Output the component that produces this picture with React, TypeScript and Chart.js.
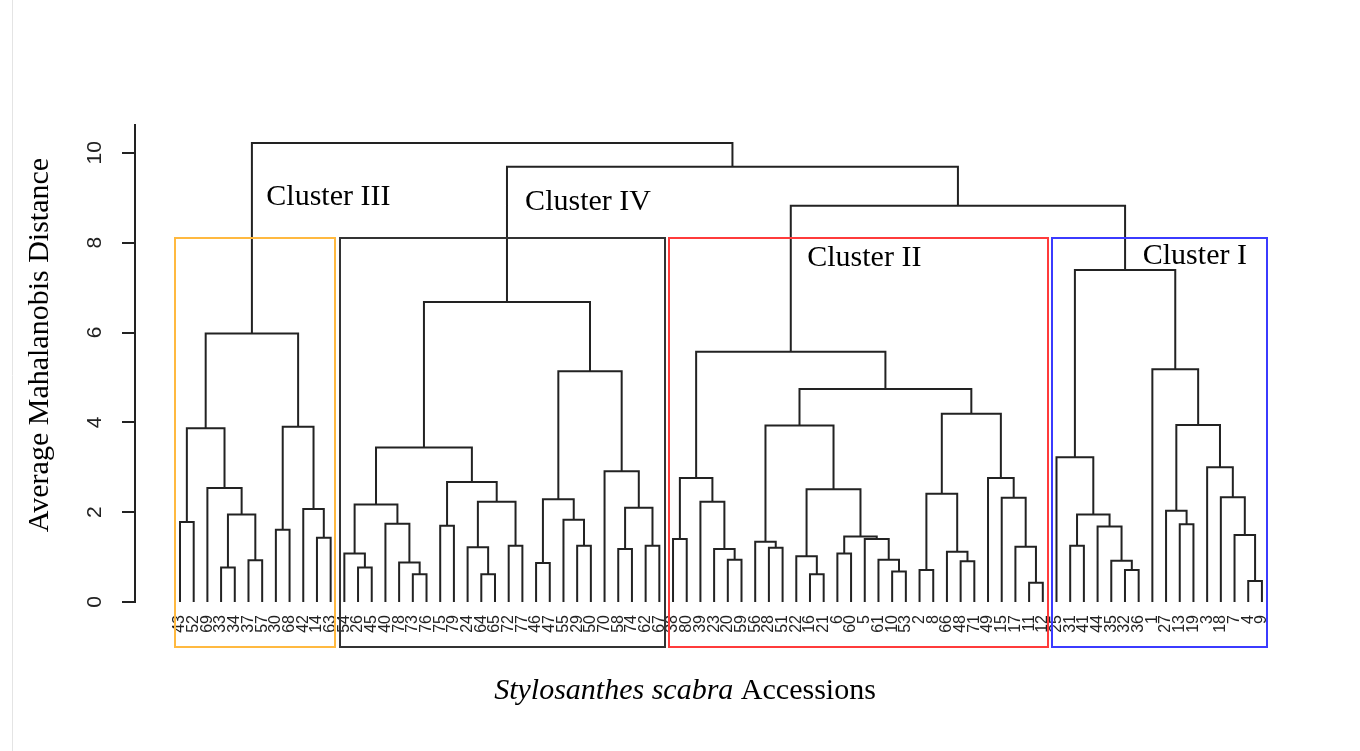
import React, { useEffect, useRef } from "react";
import { Chart, registerables } from "chart.js";

Chart.register(...registerables);

// Leaf order of the dendrogram (accession numbers, left to right)
const leafLabels: string[] = [
  "43", "52", "69", "33", "34", "37", "57", "30", "68", "42", "14", "63",
  "54", "26", "45", "40", "78", "73", "76", "75", "79", "24", "64", "65", "72", "77",
  "46", "47", "55", "29", "50", "70", "58", "74", "62", "67",
  "38", "80", "39", "23", "20", "59", "56", "28", "51", "22", "16", "21", "6", "60",
  "5", "61", "10", "53", "2", "8", "66", "48", "71", "49", "15", "17", "11", "12",
  "25", "31", "41", "44", "35", "32", "36", "1", "27", "13", "19", "3", "18", "7", "4", "9",
];

// hclust-style merge table: negative = leaf accession number, positive = earlier merge (1-based)
const mergeLeft: number[] = [
  -43, -33, -37, 2, -69, 1, -30, -14, -42, 7, 6,
  -26, -54, -73, -78, -40, 13, -75, -64, -24, -72, 20, 18, 17, -46, -29, -55, 25, -58, -62, 29, -70, 28, 24,
  -38, -20, -23, -39, 35, -28, -56, -16, -22, -6, -10, -61, -5, 44, 43, 41, -2, -48, -66, 51, -11, -17, -15, -49, 54, 50, 39,
  -31, -32, -35, -44, 62, -25, -13, -27, -4, -7, -18, -3, 69, -1, 67,
  61, 34, 11,
];
const mergeRight: number[] = [
  -52, -34, -57, 3, 4, 5, -68, -63, 8, 9, 10,
  -45, 12, -76, 14, 15, 16, -79, -65, 19, -77, 21, 22, 23, -47, -50, 26, 27, -74, -67, 30, 31, 32, 33,
  -80, -59, 36, 37, 38, -51, 40, -21, 42, -60, -53, 45, 46, 47, 48, 49, -8, -71, 52, 53, -12, 55, 56, 57, 58, 59, 60,
  -41, -36, 63, 64, 65, 66, -19, 68, -9, 70, 71, 72, 73, 74, 75,
  76, 77, 78,
];
const mergeHeight: number[] = [
  1.78, 0.77, 0.93, 1.95, 2.54, 3.87, 1.61, 1.43, 2.07, 3.9, 5.98,
  0.77, 1.08, 0.62, 0.88, 1.74, 2.17, 1.7, 0.62, 1.22, 1.25, 2.23, 2.67, 3.44, 0.87, 1.25, 1.83, 2.29, 1.18, 1.25, 2.1, 2.91, 5.14, 6.68,
  1.4, 0.94, 1.18, 2.23, 2.76, 1.21, 1.34, 0.62, 1.02, 1.08, 0.68, 0.94, 1.4, 1.46, 2.51, 3.93, 0.71, 0.91, 1.12, 2.41, 0.43, 1.23, 2.32, 2.76, 4.19, 4.74, 5.57,
  1.25, 0.71, 0.92, 1.68, 1.95, 3.22, 1.73, 2.03, 0.47, 1.49, 2.33, 3.0, 3.94, 5.18, 7.39,
  8.82, 9.69, 10.22,
];

const yTickValues: number[] = [0, 2, 4, 6, 8, 10];

const clusterNames: string[] = ["Cluster III", "Cluster IV", "Cluster II", "Cluster I"];
const clusterFirstLeaf: string[] = ["43", "54", "38", "25"];
const clusterLastLeaf: string[] = ["63", "67", "12", "9"];

const yAxisTitle = "Average Mahalanobis Distance";
const xAxisTitleItalic = "Stylosanthes scabra";
const xAxisTitleRegular = " Accessions";

// styling / placement (not data)
const boxColors = ["#FFB940", "#333333", "#FF3B3B", "#3B3BFF"];
const boxTopValue = 8.11;
const boxBottomValue = -1.0;
const boxPadLeft = 0.33;
const boxPadRight = 0.37;
const clusterLabelAnchors = [
  { x: 6.3, y: 8.84 },
  { x: 25.2, y: 8.72 },
  { x: 45.8, y: 7.47 },
  { x: 70.3, y: 7.52 },
];

function buildDendrogramDatasets() {
  const leafIndex = new Map<string, number>();
  leafLabels.forEach((l, i) => leafIndex.set(l, i));
  const nodeX: number[] = [];
  const nodeH: number[] = [];
  const child = (c: number) => {
    if (c < 0) return { x: leafIndex.get(String(-c)) as number, h: 0 };
    return { x: nodeX[c - 1], h: nodeH[c - 1] };
  };
  const datasets: any[] = [];
  for (let k = 0; k < mergeHeight.length; k++) {
    const a = child(mergeLeft[k]);
    const b = child(mergeRight[k]);
    const h = mergeHeight[k];
    nodeX[k] = (a.x + b.x) / 2;
    nodeH[k] = h;
    const left = a.x <= b.x ? a : b;
    const right = a.x <= b.x ? b : a;
    datasets.push({
      data: [
        { x: left.x, y: left.h },
        { x: left.x, y: h },
        { x: right.x, y: h },
        { x: right.x, y: right.h },
      ],
      borderColor: "#222222",
      borderWidth: 2,
      pointRadius: 0,
      fill: false,
      tension: 0,
    });
  }
  return datasets;
}

const overlayPlugin = {
  id: "overlay",
  afterDraw(chart: any) {
    const { ctx } = chart;
    const xs = chart.scales.x;
    const ys = chart.scales.y;
    ctx.save();

    // faint page edge
    ctx.strokeStyle = "#e4e4e4";
    ctx.lineWidth = 1;
    ctx.beginPath();
    ctx.moveTo(12.5, 0);
    ctx.lineTo(12.5, 751);
    ctx.stroke();

    // cluster boxes
    const leafIdx = (l: string) => leafLabels.indexOf(l);
    ctx.lineWidth = 2;
    for (let i = 0; i < clusterNames.length; i++) {
      const x0 = xs.getPixelForValue(leafIdx(clusterFirstLeaf[i]) - boxPadLeft);
      const x1 = xs.getPixelForValue(leafIdx(clusterLastLeaf[i]) + boxPadRight);
      const y0 = ys.getPixelForValue(boxTopValue);
      const y1 = ys.getPixelForValue(boxBottomValue);
      ctx.strokeStyle = boxColors[i];
      ctx.strokeRect(Math.round(x0), Math.round(y0), Math.round(x1 - x0), Math.round(y1 - y0));
    }

    // cluster labels
    ctx.fillStyle = "#000";
    ctx.font = '30px "Liberation Serif"';
    ctx.textAlign = "left";
    ctx.textBaseline = "alphabetic";
    for (let i = 0; i < clusterNames.length; i++) {
      const a = clusterLabelAnchors[i];
      ctx.fillText(clusterNames[i], xs.getPixelForValue(a.x), ys.getPixelForValue(a.y));
    }

    // y tick labels (rotated, R style)
    ctx.fillStyle = "#222";
    ctx.font = '21px "Liberation Sans"';
    ctx.textAlign = "center";
    ctx.textBaseline = "alphabetic";
    for (const t of yTickValues) {
      const py = ys.getPixelForValue(t);
      ctx.save();
      ctx.translate(101, py);
      ctx.rotate(-Math.PI / 2);
      ctx.fillText(String(t), 0, 0);
      ctx.restore();
    }

    // y axis title
    ctx.fillStyle = "#000";
    ctx.save();
    ctx.font = '30px "Liberation Serif"';
    ctx.translate(48, 345);
    ctx.rotate(-Math.PI / 2);
    ctx.textAlign = "center";
    ctx.fillText(yAxisTitle, 0, 0);
    ctx.restore();

    // x axis title
    ctx.font = 'italic 30px "Liberation Serif"';
    const w1 = ctx.measureText(xAxisTitleItalic).width;
    ctx.font = '30px "Liberation Serif"';
    const w2 = ctx.measureText(xAxisTitleRegular).width;
    const startX = 685 - (w1 + w2) / 2;
    ctx.textAlign = "left";
    ctx.font = 'italic 30px "Liberation Serif"';
    ctx.fillText(xAxisTitleItalic, startX, 699);
    ctx.font = '30px "Liberation Serif"';
    ctx.fillText(xAxisTitleRegular, startX + w1, 699);

    ctx.restore();
  },
};

export default function App() {
  const canvasRef = useRef<HTMLCanvasElement | null>(null);

  useEffect(() => {
    if (!canvasRef.current) return;
    const chart = new Chart(canvasRef.current, {
      type: "line",
      data: { datasets: buildDendrogramDatasets() },
      options: {
        responsive: false,
        animation: false,
        events: [],
        layout: { padding: { top: 125, right: 70, bottom: 0, left: 0 } },
        plugins: { legend: { display: false }, tooltip: { enabled: false }, title: { display: false } },
        scales: {
          x: {
            type: "linear",
            min: -3.286,
            max: 81.05,
            grid: { display: false },
            border: { display: false },
            afterBuildTicks: (axis: any) => {
              axis.ticks = leafLabels.map((_, i) => ({ value: i }));
            },
            afterFit: (axis: any) => {
              axis.height = 149;
            },
            ticks: {
              autoSkip: false,
              minRotation: 90,
              maxRotation: 90,
              padding: 5,
              color: "#222",
              font: { family: "Liberation Sans", size: 16 },
              callback: (v: any) => leafLabels[Math.round(Number(v))] ?? "",
            },
          },
          y: {
            type: "linear",
            min: 0,
            max: 10.62,
            afterBuildTicks: (axis: any) => {
              axis.ticks = yTickValues.map((v) => ({ value: v }));
            },
            afterFit: (axis: any) => {
              axis.width = 135;
            },
            grid: {
              display: true,
              drawOnChartArea: false,
              drawTicks: true,
              tickLength: 13,
              color: "#222222",
              lineWidth: 2,
            },
            border: { display: true, color: "#222222", width: 2 },
            ticks: { display: false },
          },
        },
      },
      plugins: [overlayPlugin],
    });
    return () => chart.destroy();
  }, []);

  return (
    <div style={{ position: "absolute", left: 0, top: 0, width: 1360, height: 751, background: "#fff" }}>
      <canvas ref={canvasRef} width={1360} height={751} style={{ display: "block" }} />
    </div>
  );
}
